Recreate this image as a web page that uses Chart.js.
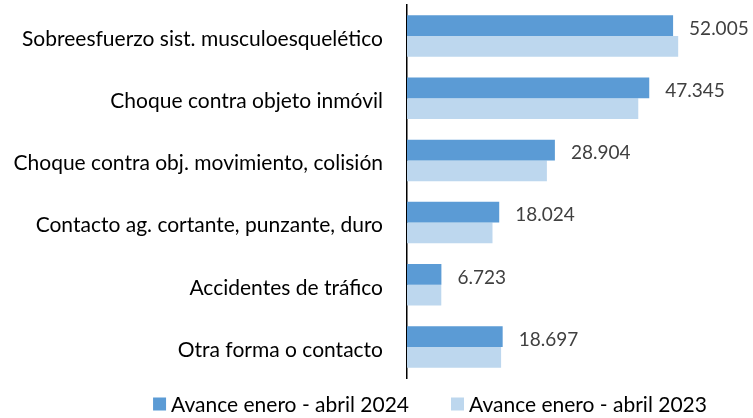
<!DOCTYPE html>
<html>
<head>
<meta charset="utf-8">
<script src="https://cdn.jsdelivr.net/npm/chart.js@4/dist/chart.umd.min.js"></script>
<style>
  body { margin: 0; background: #fff; }
  #wrap { width: 753px; height: 418px; }
</style>
</head>
<body>
<div id="wrap"><canvas id="chart"></canvas></div>
<script>
// categories and values
const categories = [
    'Sobreesfuerzo sist. musculoesquelético',
    'Choque contra objeto inmóvil',
    'Choque contra obj. movimiento, colisión',
    'Contacto ag. cortante, punzante, duro',
    'Accidentes de tráfico',
    'Otra forma o contacto'
];
const seriesNames = ['Avance enero - abril 2024', 'Avance enero - abril 2023'];
const values2024 = [52005, 47345, 28904, 18024, 6723, 18697];
const values2023 = [53000, 45200, 27340, 16710, 6700, 18390];
const colors = ['#5B9BD5', '#BDD7EE'];

const FONT = 'Lato';

// number as 52.005 (spanish thousands separator)
function fmt(v) {
    return v.toString().replace(/\B(?=(\d{3})+(?!\d))/g, '.');
}

// value labels next to the 2024 bars
const valueLabels = {
    id: 'valueLabels',
    afterDatasetsDraw(chart) {
        const c = chart.ctx;
        const meta = chart.getDatasetMeta(0);
        c.save();
        c.font = '19px ' + FONT;
        c.fillStyle = '#404040';
        c.textAlign = 'left';
        c.textBaseline = 'middle';
        meta.data.forEach((bar, i) => {
            c.fillText(fmt(chart.data.datasets[0].data[i]), bar.x + 16, bar.y + 3);
        });
        c.restore();
    }
};

// legend row under the plot, like the original
const bottomLegend = {
    id: 'bottomLegend',
    afterDraw(chart) {
        const c = chart.ctx;
        const box = 13, gap = 5, spacing = 42, centerX = 430, y = 404;
        c.save();
        c.font = '21px ' + FONT;
        c.textBaseline = 'middle';
        c.textAlign = 'left';
        const ds = chart.data.datasets;
        const widths = ds.map(d => box + gap + c.measureText(d.label).width);
        const total = widths.reduce((a, b) => a + b, 0) + spacing * (ds.length - 1);
        let x = centerX - total / 2;
        ds.forEach((d, i) => {
            c.fillStyle = d.backgroundColor;
            c.fillRect(x, y - box / 2, box, box);
            c.fillStyle = '#000';
            c.fillText(d.label, x + box + gap, y + 1);
            x += widths[i] + spacing;
        });
        c.restore();
    }
};

new Chart(document.getElementById('chart'), {
    type: 'bar',
    data: {
        labels: categories,
        datasets: [
            { label: seriesNames[0], data: values2024, backgroundColor: colors[0] },
            { label: seriesNames[1], data: values2023, backgroundColor: colors[1] }
        ]
    },
    options: {
        indexAxis: 'y',
        responsive: true,
        maintainAspectRatio: false,
        animation: false,
        layout: { padding: { left: 0, right: 39, top: 5, bottom: 40 } },
        datasets: {
            bar: { categoryPercentage: 0.667, barPercentage: 1.0, borderWidth: 0 }
        },
        scales: {
            x: {
                display: false,
                min: 0,
                max: 60000
            },
            y: {
                afterFit(scale) {
                    scale.width = 407;
                    // no extra room above/below for the tick labels
                    scale.paddingTop = 0;
                    scale.paddingBottom = 0;
                },
                grid: { display: false, drawTicks: false },
                border: { display: true, color: '#000', width: 1.5 },
                ticks: {
                    padding: 24,
                    labelOffset: 3,
                    color: '#000',
                    font: { family: FONT, size: 21 }
                }
            }
        },
        plugins: {
            legend: { display: false },
            tooltip: { enabled: false }
        }
    },
    plugins: [valueLabels, bottomLegend]
});
</script>
</body>
</html>
